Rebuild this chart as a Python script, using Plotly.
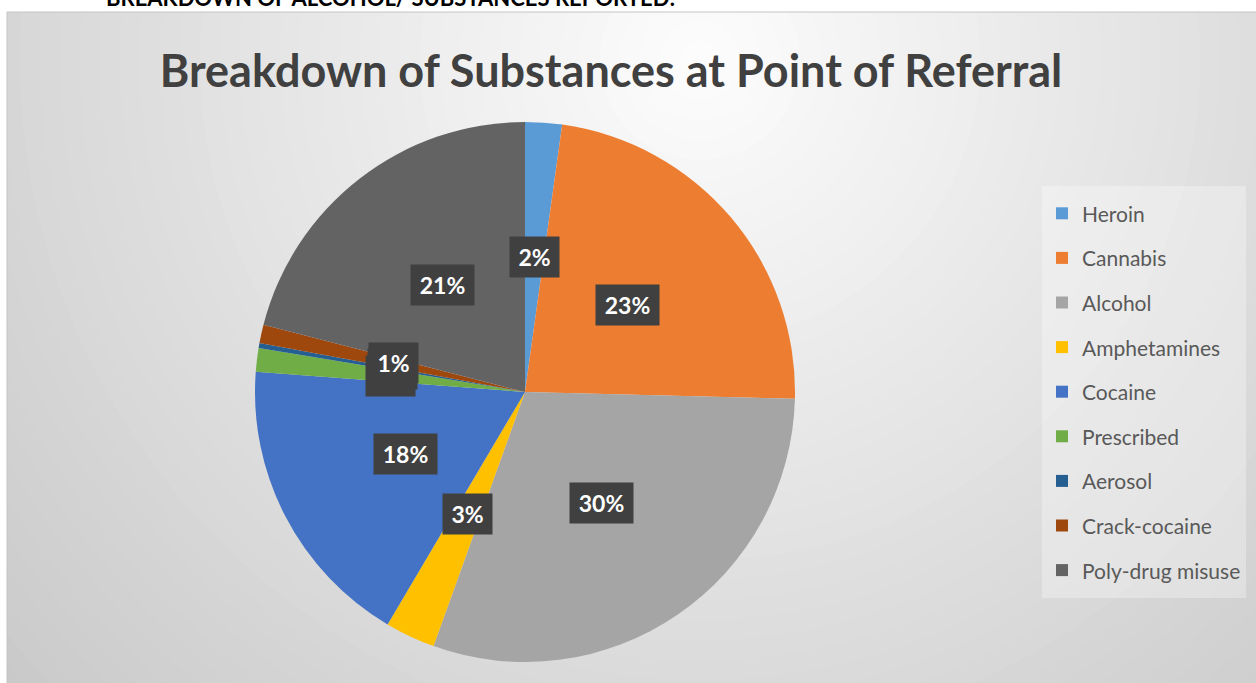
import math
import plotly.graph_objects as go

# ---- data ----
substances = ["Heroin", "Cannabis", "Alcohol", "Amphetamines", "Cocaine",
              "Prescribed", "Aerosol", "Crack-cocaine", "Poly-drug misuse"]
shares = [2.2, 23.2, 30.1, 3.0, 17.7, 1.4, 0.3, 1.1, 21.0]
colors = ["#5B9BD5", "#ED7D31", "#A5A5A5", "#FFC000", "#4472C4",
          "#70AD47", "#255E91", "#9E480E", "#636363"]
title_text = "Breakdown of Substances at Point of Referral"
header_text = "BREAKDOWN OF ALCOHOL/ SUBSTANCES REPORTED:"

W, H = 1256, 683
CX, CY, R = 525, 392, 270      # pie centre / radius in pixels
FRAME_X, FRAME_Y = 7, 12

def px(x):
    return x / W

def py(y):
    return 1 - y / H

fig = go.Figure()
fig.add_trace(go.Pie(
    labels=[f'<span style="font-size:21px;baseline-shift:4px">{s}</span>' for s in substances],
    values=shares,
    sort=False,
    direction="clockwise",
    rotation=0,
    marker=dict(colors=colors, line=dict(width=0)),
    textinfo="none",
    hoverinfo="label+percent",
    domain=dict(x=[px(CX - R), px(CX + R)], y=[py(CY + R), py(CY - R)]),
    showlegend=True,
))

# ---- background: radial gradient approximated with concentric circles ----
shapes = []
GX, GY = 700, 60
steps = 50
rmax = 1000
for i in range(steps):
    r = rmax * (1 - i / steps)
    c = int(round(max(198, 253 - 0.055 * r)))
    shapes.append(dict(type="circle", xref="paper", yref="paper",
                       x0=px(GX - r), x1=px(GX + r), y0=py(GY + r), y1=py(GY - r),
                       fillcolor=f"rgb({c},{c},{c})", line=dict(width=0), layer="below"))
# white outside strips + frame border
shapes.append(dict(type="rect", xref="paper", yref="paper", x0=0, x1=1, y0=py(FRAME_Y), y1=1.05,
                   fillcolor="white", line=dict(width=0), layer="below"))
shapes.append(dict(type="rect", xref="paper", yref="paper", x0=-0.05, x1=px(FRAME_X), y0=-0.05, y1=1.05,
                   fillcolor="white", line=dict(width=0), layer="below"))
shapes.append(dict(type="line", xref="paper", yref="paper", x0=px(FRAME_X), x1=1, y0=py(FRAME_Y), y1=py(FRAME_Y),
                   line=dict(color="#C4C4C4", width=1), layer="below"))
shapes.append(dict(type="line", xref="paper", yref="paper", x0=px(FRAME_X), x1=px(FRAME_X), y0=0, y1=py(FRAME_Y),
                   line=dict(color="#C4C4C4", width=1), layer="below"))

# ---- data labels (Excel style dark boxes at half radius) ----
annotations = []
total = sum(shares)
cum = 0.0
for name, v in zip(substances, shares):
    mid = (cum + v / 2) / total * 2 * math.pi
    cum += v
    lx = CX + 0.5 * R * math.sin(mid)
    ly = CY - 0.5 * R * math.cos(mid)
    txt = f"{round(v / total * 100)}%"
    annotations.append(dict(
        x=px(lx), y=py(ly), xref="paper", yref="paper",
        text=f"<b>{txt}</b>", showarrow=False,
        font=dict(family="Lato", size=23, color="white"),
        bgcolor="#404040", borderpad=6,
        width=37 if len(txt) == 2 else 51,
        xanchor="center", yanchor="middle",
    ))

# cut-off header above the chart frame
annotations.append(dict(
    x=px(104), y=py(-2), xref="paper", yref="paper", xanchor="left", yanchor="middle",
    text=f"<b>{header_text}</b>", showarrow=False,
    font=dict(family="Lato", size=22, color="black"),
))

fig.update_layout(
    width=W, height=H,
    margin=dict(l=0, r=0, t=0, b=0),
    paper_bgcolor="white",
    plot_bgcolor="white",
    title=dict(text=f"<b>{title_text}</b>", x=px(611), y=py(71), xanchor="center", yanchor="middle",
               font=dict(family="Lato", size=45, color="#404040")),
    legend=dict(x=px(1042), y=py(186), xanchor="left", yanchor="top",
                bgcolor="rgba(255,255,255,0.3)",
                font=dict(family="Lato", size=32, color="#595959"),
                traceorder="normal"),
    shapes=shapes,
    annotations=annotations,
)

fig.write_html("out.html")
